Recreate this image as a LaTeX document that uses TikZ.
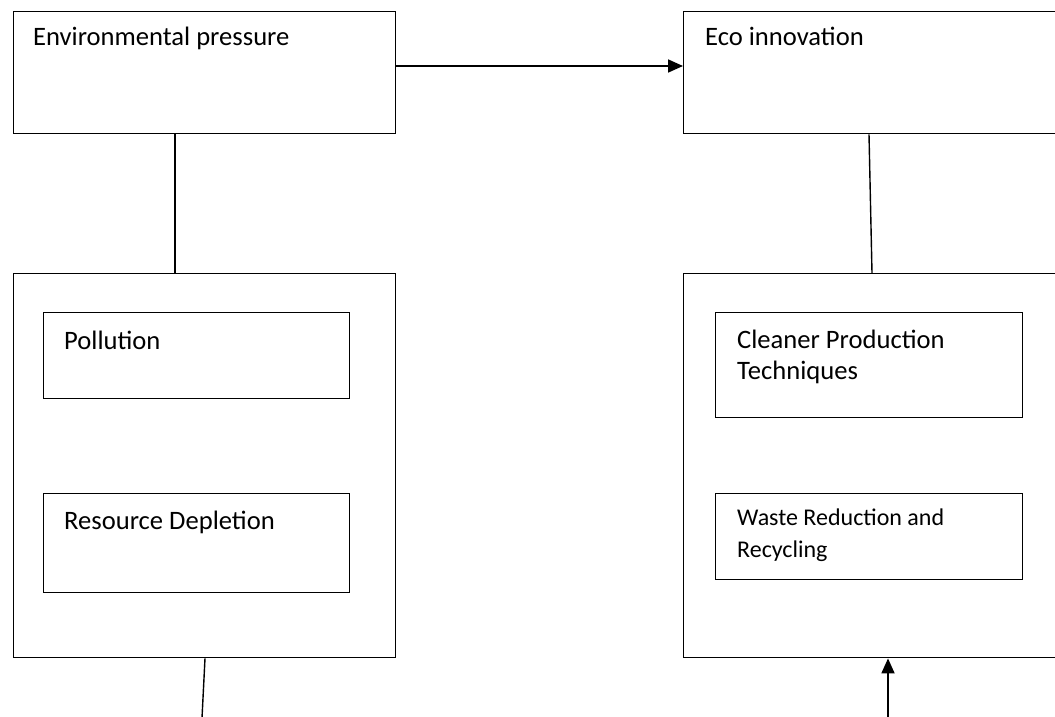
\documentclass[tikz,border=0pt]{standalone}
\usepackage{fontspec}
\setmainfont{Carlito}
\usetikzlibrary{arrows.meta,calc}
\begin{document}
\begin{tikzpicture}[x=1pt,y=-1pt,
  box/.style={draw,line width=1.4pt,rectangle,inner sep=0pt,anchor=north west},
  lbl/.style={anchor=base west,inner sep=0pt,font=\fontsize{26.6}{31}\selectfont},
  lblsmall/.style={anchor=base west,inner sep=0pt,font=\fontsize{24}{32}\selectfont},
  conn/.style={line width=1.4pt},
  arr/.style={line width=1.8pt,-{Triangle[length=15pt,width=13pt]}}]
\useasboundingbox[fill=white] (0,0) rectangle (1055,717);
% top boxes
\node[box,minimum width=382pt,minimum height=122pt] (ep) at (13,11) {};
\node[box,minimum width=390pt,minimum height=122pt] (eco) at (683,11) {};
% big boxes
\node[box,minimum width=382pt,minimum height=384pt] (lb) at (13,273) {};
\node[box,minimum width=390pt,minimum height=384pt] (rb) at (683,273) {};
% inner boxes
\node[box,minimum width=306pt,minimum height=86pt] (pol) at (43,312) {};
\node[box,minimum width=306pt,minimum height=99pt] (res) at (43,493) {};
\node[box,minimum width=307pt,minimum height=105pt] (cpt) at (715,312) {};
\node[box,minimum width=307pt,minimum height=86pt] (wrr) at (715,493) {};
% texts
\node[lbl] (tep) at (33,46) {Environmental pressure};
\node[lbl] (teco) at (705,46) {Eco innovation};
\node[lbl] (tpol) at (64,349) {Pollution};
\node[lbl] (tres) at (64,529) {Resource Depletion};
\node[lbl] (tcpt1) at (737,348) {Cleaner Production};
\node[lbl] (tcpt2) at (737,379) {Techniques};
\node[lblsmall] (twrr1) at (737,525) {Waste Reduction and};
\node[lblsmall] (twrr2) at (737,557) {Recycling};
% connectors
\draw[arr] ($(ep.north east)+(0,55)$) -- ($(eco.north west)+(0,55)$);
\draw[conn] ($(ep.south west)+(162,0)$) -- ($(lb.north west)+(162,0)$);
\draw[conn] ($(eco.south west)+(186,0)$) -- ($(rb.north west)+(189,0)$);
\coordinate (bl) at (202,718);
\coordinate (br) at (888,718);
\draw[conn] ($(lb.south west)+(192,0)$) -- (bl);
\draw[arr] (br) -- ($(rb.south west)+(205,0)$);
\end{tikzpicture}
\end{document}
